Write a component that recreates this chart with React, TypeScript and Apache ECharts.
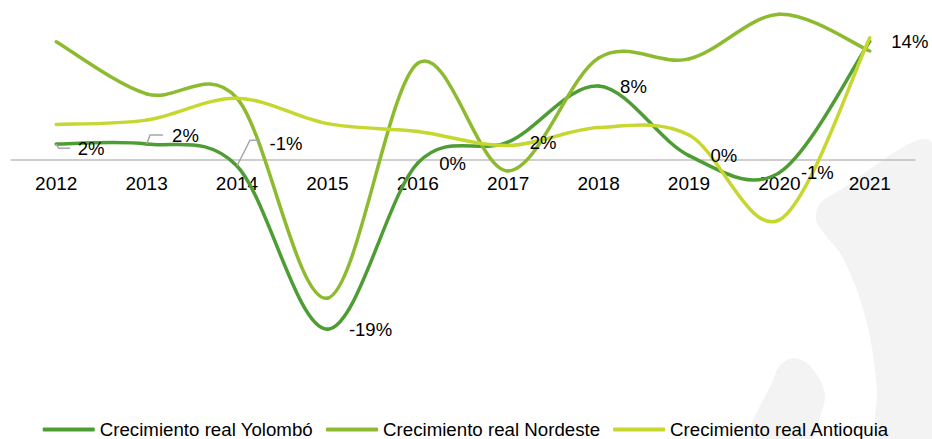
import React, { useEffect, useRef } from "react";
import * as echarts from "echarts";

const years = ["2012", "2013", "2014", "2015", "2016", "2017", "2018", "2019", "2020", "2021"];
const seriesNames = ["Crecimiento real Yolombó", "Crecimiento real Nordeste", "Crecimiento real Antioquia"];
const yolombo = [1.77, 1.77, -0.74, -19.4, -0.4, 2.0, 8.4, 0.45, -1.5, 13.5];
const nordeste = [13.45, 7.5, 7.0, -15.85, 11.0, -1.3, 11.6, 11.5, 16.6, 12.4];
const antioquia = [4.0, 4.5, 7.0, 4.1, 3.2, 1.6, 3.65, 2.8, -6.9, 13.9];

const colors = ["#4e9d34", "#8cbb2f", "#c6d72f"];
const FONT = "'Liberation Sans', Arial, sans-serif";

// label offsets (style) for the first points, with leader lines
const labelOffsets: Record<number, [number, number]> = { 0: [0, 4], 1: [4, -9], 2: [11, -22] };
const leaderShapes: Record<number, number[][]> = {
  0: [[0, 0], [2.5, 4.3], [14, 4.3]],
  1: [[0, 0], [3.5, -9], [16.5, -9]],
  2: [[0, 0], [13, -25.7], [23, -25.7]],
};

const bgGraphics: any[] = [
  {
    type: "polygon",
    id: "bg1",
    z: -10,
    silent: true,
    shape: {
      points: [
        [932, 143], [830, 196], [819, 205], [816, 220], [826, 236], [840, 253],
        [857, 290], [870, 337], [877, 390], [878, 439], [932, 439],
      ],
      smooth: 0.3,
    },
    style: { fill: "#f3f3f3" },
  },
  {
    type: "polygon",
    id: "bg2",
    z: -10,
    silent: true,
    shape: {
      points: [
        [750, 439], [773, 380], [780, 365], [793, 358], [807, 363], [820, 380],
        [825, 397], [820, 417], [812, 439],
      ],
      smooth: 0.3,
    },
    style: { fill: "#f3f3f3" },
  },
];

function makeCurveSeries(name: string, vals: number[], color: string, withLabels: boolean) {
  const n = vals.length;
  const clamp = (j: number) => Math.max(0, Math.min(n - 1, j));
  return {
    type: "custom",
    name,
    xAxisIndex: 0,
    yAxisIndex: 0,
    data: vals.map((v, i) => [i, v]),
    itemStyle: { color },
    z: 3,
    clip: false,
    renderItem: (params: any, api: any) => {
      const i = params.dataIndex;
      const p = (j: number) => api.coord([clamp(j), vals[clamp(j)]]);
      const P1 = api.coord([api.value(0), api.value(1)]);
      const children: any[] = [];
      if (i < n - 1) {
        const P0 = p(i - 1);
        const P2 = p(i + 1);
        const P3 = p(i + 2);
        children.push({
          type: "bezierCurve",
          shape: {
            x1: P1[0],
            y1: P1[1],
            cpx1: P1[0] + (P2[0] - P0[0]) / 6,
            cpy1: P1[1] + (P2[1] - P0[1]) / 6,
            cpx2: P2[0] - (P3[0] - P1[0]) / 6,
            cpy2: P2[1] - (P3[1] - P1[1]) / 6,
            x2: P2[0],
            y2: P2[1],
          },
          style: { stroke: color, lineWidth: 3.5, fill: null, lineCap: "round" },
        });
      }
      if (withLabels) {
        const off = labelOffsets[i] || [0, 0];
        if (leaderShapes[i]) {
          children.push({
            type: "polyline",
            z2: 20,
            shape: { points: leaderShapes[i].map(([dx, dy]) => [P1[0] + dx, P1[1] + dy]) },
            style: { stroke: "#a6a6a6", lineWidth: 1.5, fill: null },
          });
        }
        children.push({
          type: "text",
          z2: 30,
          x: P1[0] + 21.5 + off[0],
          y: P1[1] + off[1],
          style: {
            text: `${Math.round(api.value(1))}%`,
            fill: "#000",
            font: `18.5px ${FONT}`,
            align: "left",
            verticalAlign: "middle",
          },
        });
      }
      return { type: "group", children };
    },
  };
}

export default function App() {
  const ref = useRef<HTMLDivElement>(null);
  useEffect(() => {
    if (!ref.current) return;
    const chart = echarts.init(ref.current, undefined, { renderer: "svg" });
    chart.setOption({
      animation: false,
      backgroundColor: "#ffffff",
      graphic: bgGraphics,
      grid: [
        { left: 11, right: 17, top: 2, bottom: 52, containLabel: false },
        { left: 11, right: 17, top: 0, height: 159.5, containLabel: false },
      ],
      xAxis: [
        {
          type: "category",
          gridIndex: 0,
          data: years,
          boundaryGap: true,
          axisLine: { show: true, onZero: true, lineStyle: { color: "#bfbfbf", width: 1.5 } },
          axisTick: { show: false },
          axisLabel: { show: false },
          splitLine: { show: false },
        },
        {
          type: "category",
          gridIndex: 1,
          data: years,
          boundaryGap: true,
          axisLine: { show: false },
          axisTick: { show: false },
          axisLabel: { color: "#000", fontSize: 19, fontFamily: FONT, margin: 14 },
          splitLine: { show: false },
        },
      ],
      yAxis: [
        { type: "value", gridIndex: 0, min: -26, max: 18, interval: 2, show: false, splitLine: { show: false } },
        { type: "value", gridIndex: 1, min: 0, max: 1, show: false, splitLine: { show: false } },
      ],
      legend: {
        show: true,
        left: "center",
        top: 415,
        icon: "roundRect",
        itemWidth: 52,
        itemHeight: 4,
        itemGap: 13,
        textStyle: { color: "#000", fontSize: 18.7, lineHeight: 18, fontFamily: FONT },
        data: seriesNames,
      },
      series: [
        makeCurveSeries(seriesNames[0], yolombo, colors[0], true),
        makeCurveSeries(seriesNames[1], nordeste, colors[1], false),
        makeCurveSeries(seriesNames[2], antioquia, colors[2], false),
      ],
    });
    return () => chart.dispose();
  }, []);
  return (
    <div
      ref={ref}
      style={{ position: "fixed", left: 0, top: 0, width: 932, height: 439 }}
    />
  );
}
